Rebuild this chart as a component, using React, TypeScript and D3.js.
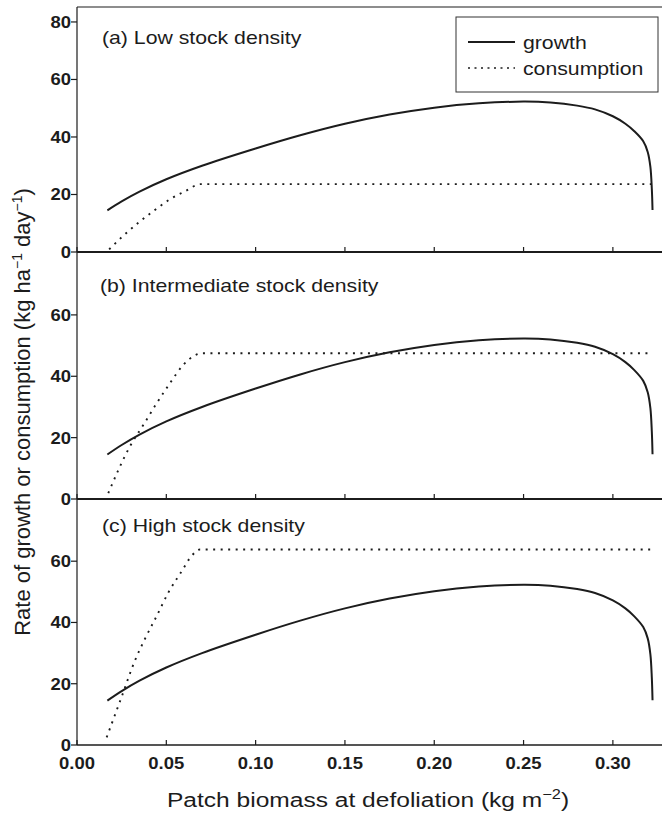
import React from "react";
import * as d3 from "d3";

// ---- data ----
const growthX = [0.017, 0.025, 0.035, 0.05, 0.07, 0.1, 0.125, 0.15, 0.175, 0.2, 0.225, 0.25, 0.265, 0.28, 0.29, 0.3, 0.307, 0.312, 0.317, 0.3195, 0.321, 0.3218, 0.3222];
const growthY = [14.5, 17.6, 21.0, 25.3, 30.0, 36.0, 40.6, 44.6, 47.8, 50.2, 51.7, 52.3, 52.0, 50.9, 49.6, 47.2, 44.6, 42.0, 38.5, 34.8, 29.6, 22.0, 14.6];

const consLowX = [0.018, 0.026, 0.035, 0.044, 0.052, 0.061, 0.069, 0.322];
const consLowY = [0.9, 5.7, 10.5, 14.8, 18.3, 21.3, 23.6, 23.6];

const consMidX = [0.0175, 0.0296, 0.0371, 0.0446, 0.052, 0.0595, 0.066, 0.07, 0.322];
const consMidY = [1.9, 17.1, 24.1, 31.2, 37.7, 43.7, 46.8, 47.5, 47.5];

const consHighX = [0.0166, 0.0246, 0.0324, 0.038, 0.0446, 0.0511, 0.0587, 0.0641, 0.0688, 0.322];
const consHighY = [2.5, 15.1, 27.5, 34.6, 42.1, 49.7, 56.8, 61.7, 63.8, 63.8];

const panelLabels = ["(a) Low stock density", "(b) Intermediate stock density", "(c) High stock density"];
const yTicksLow = [0, 20, 40, 60, 80];
const yTicksMid = [0, 20, 40, 60];
const yTicksHigh = [0, 20, 40, 60];
const xTicks = [0, 0.05, 0.1, 0.15, 0.2, 0.25, 0.3];
const legendLabels = ["growth", "consumption"];

const FONT = "'Liberation Sans', Arial, Helvetica, sans-serif";
const INK = "#1c1c1c";

const W = 662;
const H = 814;
const X0 = 77;

const x = d3.scaleLinear().domain([0, 0.3275]).range([X0, 662]);

const panels = [
  { label: panelLabels[0], ticks: yTicksLow, y: d3.scaleLinear().domain([0, 85.2]).range([252, 7]), cx: consLowX, cy: consLowY, lx: 102, ly: 44 },
  { label: panelLabels[1], ticks: yTicksMid, y: d3.scaleLinear().domain([0, 80.5]).range([499, 252]), cx: consMidX, cy: consMidY, lx: 100, ly: 292 },
  { label: panelLabels[2], ticks: yTicksHigh, y: d3.scaleLinear().domain([0, 80.3]).range([745, 499]), cx: consHighX, cy: consHighY, lx: 102, ly: 532 },
];

function STxt({ x: tx, y: ty, sx = 1.18, anchor = "start", size = 18, weight = "normal", children }: any) {
  return (
    <g transform={`translate(${tx},${ty}) scale(${sx},1)`}>
      <text x={0} y={0} textAnchor={anchor} fontSize={size} fontWeight={weight} fontFamily={FONT} fill={INK}>
        {children}
      </text>
    </g>
  );
}

export default function App() {
  return (
    <svg width={W} height={H} style={{ position: "absolute", left: 0, top: 0, background: "#fff" }}>
      <rect x={0} y={0} width={W} height={H} fill="#fff" />
      {/* top frame */}
      <line x1={X0} x2={W} y1={7} y2={7} stroke={INK} strokeWidth={1.2} />
      {panels.map((p, i) => {
        const y = p.y;
        const zero = y(0);
        const gLine = d3
          .line<number>()
          .x((_, k) => x(growthX[k]))
          .y((v) => y(v))
          .curve(d3.curveCatmullRom.alpha(0.5))(growthY);
        const cLine = d3
          .line<number>()
          .x((_, k) => x(p.cx[k]))
          .y((v) => y(v))
          .curve(d3.curveMonotoneX)(p.cy);
        return (
          <g key={i}>
            {/* baseline / x axis */}
            <line x1={X0} x2={W} y1={zero} y2={zero} stroke={INK} strokeWidth={i < 2 ? 2.2 : 1.3} />
            {xTicks.map((t) => (
              <line key={t} x1={x(t)} x2={x(t)} y1={zero} y2={zero - 5} stroke={INK} strokeWidth={1.2} />
            ))}
            {/* y ticks */}
            {p.ticks.map((t) => (
              <g key={t}>
                <line x1={X0 - 6} x2={X0} y1={y(t)} y2={y(t)} stroke={INK} strokeWidth={1.2} />
                <STxt x={X0 - 6} y={y(t) + 6} sx={1.12} anchor="end" size={16.5} weight="bold">
                  {t}
                </STxt>
              </g>
            ))}
            <STxt x={p.lx} y={p.ly} size={18}>
              {p.label}
            </STxt>
            <path d={cLine || ""} fill="none" stroke={INK} strokeWidth={1.9} strokeDasharray="2 5.5" />
            <path d={gLine || ""} fill="none" stroke={INK} strokeWidth={2} />
          </g>
        );
      })}
      {/* left axis */}
      <line x1={X0} x2={X0} y1={7} y2={745} stroke={INK} strokeWidth={1.2} />
      {/* x tick labels */}
      {xTicks.map((t) => (
        <STxt key={t} x={x(t)} y={769} sx={1.12} anchor="middle" size={16.5} weight="bold">
          {t.toFixed(2)}
        </STxt>
      ))}
      {/* x title */}
      <STxt x={368} y={807} sx={1.17} anchor="middle" size={21}>
        Patch biomass at defoliation (kg m
        <tspan dy={-8} fontSize={14}>−2</tspan>
        <tspan dy={8}>)</tspan>
      </STxt>
      {/* y title */}
      <text
        transform="translate(30,412) rotate(-90)"
        textAnchor="middle"
        fontSize={22}
        fontFamily={FONT}
        fill={INK}
      >
        Rate of growth or consumption (kg ha
        <tspan dy={-8} fontSize={14}>−1</tspan>
        <tspan dy={8}> day</tspan>
        <tspan dy={-8} fontSize={14}>−1</tspan>
        <tspan dy={8}>)</tspan>
      </text>
      {/* legend */}
      <rect x={456} y={17} width={202} height={75} fill="#fff" stroke="#333" strokeWidth={1} />
      <line x1={468} x2={515} y1={42} y2={42} stroke={INK} strokeWidth={1.8} />
      <line x1={468} x2={515} y1={68} y2={68} stroke={INK} strokeWidth={1.6} strokeDasharray="2 4.5" />
      <STxt x={523} y={49} size={18}>
        {legendLabels[0]}
      </STxt>
      <STxt x={523} y={75} size={18}>
        {legendLabels[1]}
      </STxt>
    </svg>
  );
}
